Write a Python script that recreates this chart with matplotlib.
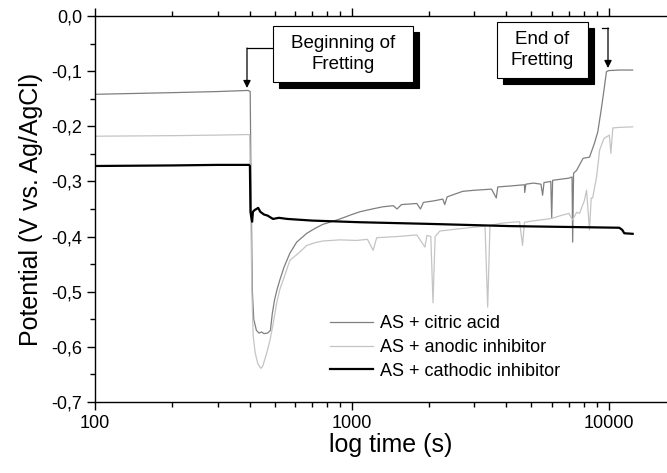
import matplotlib
matplotlib.use("Agg")
import matplotlib.pyplot as plt
from matplotlib.patches import Rectangle, FancyArrowPatch
from matplotlib.lines import Line2D
from matplotlib.ticker import FuncFormatter, MultipleLocator, LogLocator, NullFormatter

plt.rcParams['font.family'] = ['Liberation Sans', 'DejaVu Sans']

# ---------------- data ----------------
citric_t = [100, 200, 300, 395, 402, 405, 410, 415, 425, 435, 445, 455, 470, 482, 490,
            500, 512, 525, 545, 574, 610, 668, 720, 770, 820, 900, 1000, 1075, 1200,
            1320, 1450, 1500, 1560, 1790, 1850, 1900, 2100, 2260, 2300, 2350, 2700,
            3000, 3500, 3650, 3700, 4200, 4700, 4710, 4760, 5100, 5450, 5530, 5600,
            5950, 6000, 6050, 6500, 7000, 7200, 7240, 7300, 7500, 7950, 8420, 8800,
            9070, 9350, 9590, 9800, 10000, 11000, 12400]
citric_v = [-0.142, -0.139, -0.137, -0.135, -0.137, -0.30, -0.50, -0.55, -0.57, -0.575,
            -0.573, -0.576, -0.575, -0.57, -0.54, -0.515, -0.495, -0.478, -0.455, -0.43,
            -0.41, -0.394, -0.385, -0.378, -0.374, -0.368, -0.36, -0.355, -0.35, -0.346,
            -0.344, -0.35, -0.342, -0.34, -0.35, -0.338, -0.335, -0.332, -0.342, -0.328,
            -0.318, -0.316, -0.314, -0.33, -0.31, -0.308, -0.306, -0.32, -0.305, -0.303,
            -0.305, -0.325, -0.302, -0.30, -0.367, -0.298, -0.296, -0.294, -0.292, -0.41,
            -0.285, -0.28, -0.258, -0.256, -0.231, -0.21, -0.17, -0.134, -0.101, -0.099,
            -0.098, -0.098]

anodic_t = [100, 200, 300, 395, 400, 404, 408, 413, 420, 430, 442, 450, 460, 470, 480,
            493, 510, 525, 540, 574, 620, 668, 720, 771, 898, 1045, 1150, 1210, 1250,
            1500, 1790, 1925, 1960, 2030, 2070, 2110, 2200, 2600, 3000, 3300, 3380, 3450,
            3800, 4200, 4500, 4620, 4700, 5000, 5600, 6000, 6500, 7000, 7240, 7500, 7700,
            8050, 8200, 8420, 8550, 8660, 8970, 9220, 9590, 10060, 10200, 10380, 11000,
            12400]
anodic_v = [-0.218, -0.217, -0.216, -0.215, -0.216, -0.35, -0.50, -0.58, -0.61, -0.63,
            -0.639, -0.635, -0.62, -0.605, -0.588, -0.56, -0.52, -0.495, -0.479, -0.443,
            -0.43, -0.416, -0.411, -0.408, -0.406, -0.407, -0.405, -0.425, -0.402, -0.40,
            -0.397, -0.419, -0.398, -0.40, -0.52, -0.40, -0.39, -0.386, -0.383, -0.381,
            -0.528, -0.38, -0.376, -0.374, -0.373, -0.416, -0.374, -0.372, -0.369, -0.367,
            -0.362, -0.358, -0.37, -0.356, -0.358, -0.334, -0.316, -0.388, -0.33, -0.33,
            -0.292, -0.243, -0.222, -0.216, -0.249, -0.203, -0.202, -0.201]

cathodic_t = [100, 200, 300, 398, 401, 403, 406, 409, 412, 418, 425, 432, 440, 455, 470,
              493, 520, 560, 700, 1075, 2000, 4120, 8000, 11000, 11300, 11500, 12400]
cathodic_v = [-0.272, -0.271, -0.270, -0.270, -0.272, -0.355, -0.365, -0.373, -0.355,
              -0.352, -0.35, -0.348, -0.355, -0.36, -0.362, -0.368, -0.366, -0.368, -0.371,
              -0.374, -0.377, -0.381, -0.383, -0.384, -0.388, -0.394, -0.395]

labels = ["AS + citric acid", "AS + anodic inhibitor", "AS + cathodic inhibitor"]
y_ticks = [0.0, -0.1, -0.2, -0.3, -0.4, -0.5, -0.6, -0.7]

# ---------------- figure ----------------
W, H = 667, 473
fig = plt.figure(figsize=(W / 100, H / 100), dpi=100)
ax = fig.add_axes([95 / W, 1 - 402 / H, (686 - 95) / W, (402 - 16) / H])

ax.plot(citric_t, citric_v, color="#7f7f7f", lw=0.9, label=labels[0])
ax.plot(anodic_t, anodic_v, color="#c4c4c4", lw=0.9, label=labels[1])
ax.plot(cathodic_t, cathodic_v, color="black", lw=1.6, label=labels[2])

ax.set_xscale("log")
ax.set_xlim(100, 20000)
ax.set_ylim(-0.7, 0.0)
ax.set_yticks(y_ticks)
ax.yaxis.set_minor_locator(MultipleLocator(0.05))
ax.yaxis.set_major_formatter(FuncFormatter(lambda v, p: f"{v:.1f}".replace(".", ",").replace("-0,0", "0,0")))
ax.xaxis.set_major_locator(LogLocator(base=10))
ax.xaxis.set_major_formatter(FuncFormatter(lambda v, p: f"{int(round(v))}"))
ax.xaxis.set_minor_locator(LogLocator(base=10, subs=range(2, 10)))
ax.xaxis.set_minor_formatter(NullFormatter())

ax.tick_params(which="both", direction="out", top=True, right=True, labelsize=13, width=1.0)
ax.tick_params(which="major", length=5.5)
ax.tick_params(which="minor", length=3.5)
for s in ax.spines.values():
    s.set_linewidth(1.0)

ax.set_xlabel("log time (s)", fontsize=18, labelpad=1)
ax.set_ylabel("Potential (V vs. Ag/AgCl)", fontsize=18, labelpad=6)

leg = ax.legend(loc="upper left", bbox_to_anchor=((330 - 95) / (686 - 95), 1 - (315 - 16) / (402 - 16)),
                frameon=False, fontsize=13, handlelength=2.4, handletextpad=0.35,
                labelspacing=0.38, borderaxespad=0, borderpad=0)


# ---------------- annotations ----------------
def fx(x):
    return x / W


def fy(y):
    return 1 - y / H


def box(x0, y0, x1, y1, text):
    sh = 6
    fig.add_artist(Rectangle((fx(x0 + sh), fy(y1 + sh)), (x1 - x0) / W, (y1 - y0) / H,
                             transform=fig.transFigure, facecolor="black", edgecolor="black", lw=0.8))
    fig.add_artist(Rectangle((fx(x0), fy(y1)), (x1 - x0) / W, (y1 - y0) / H,
                             transform=fig.transFigure, facecolor="white", edgecolor="black", lw=0.8))
    fig.text(fx((x0 + x1) / 2), fy((y0 + y1) / 2), text, ha="center", va="center",
             fontsize=13.5, linespacing=1.25)


def arrow(pts):
    xs = [fx(p[0]) for p in pts[:-1]]
    ys = [fy(p[1]) for p in pts[:-1]]
    if len(pts) > 2:
        fig.add_artist(Line2D(xs, ys, transform=fig.transFigure, color="black", lw=0.9))
    a, b = pts[-2], pts[-1]
    fig.add_artist(FancyArrowPatch((fx(a[0]), fy(a[1])), (fx(b[0]), fy(b[1])),
                                   transform=fig.transFigure, arrowstyle="-|>",
                                   mutation_scale=11, color="black", lw=0.9,
                                   shrinkA=0, shrinkB=0))


box(273, 26, 413, 82, "Beginning of\nFretting")
box(497, 22, 588, 78, "End of\nFretting")
arrow([(272, 48), (247, 48), (247, 88)])
arrow([(602, 28), (608, 28), (608, 68)])

fig.savefig("out.png", dpi=100)
